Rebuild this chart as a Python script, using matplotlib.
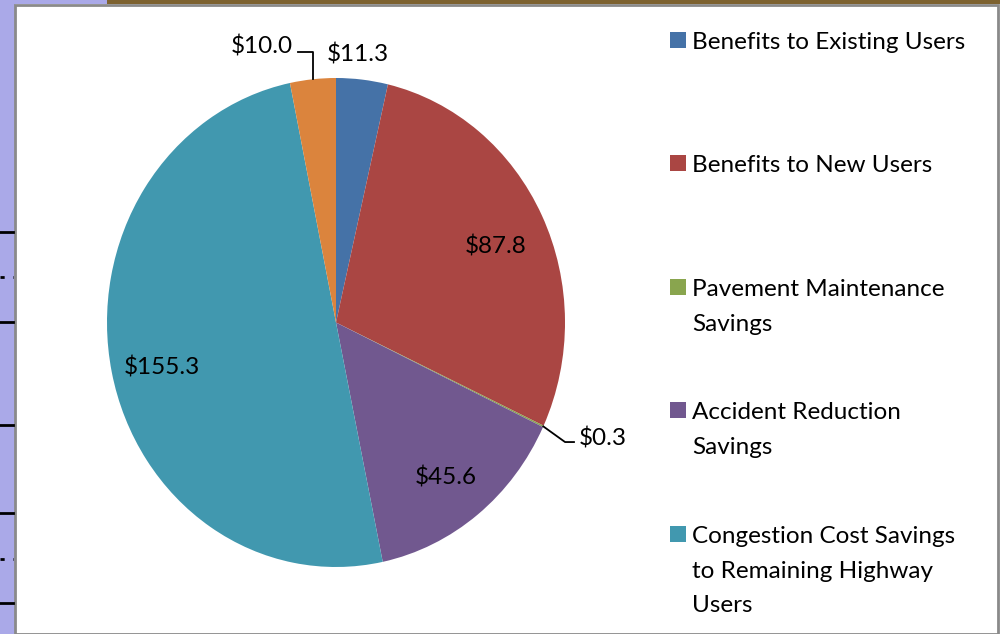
import numpy as np
import matplotlib.pyplot as plt
from matplotlib.patches import Rectangle
from matplotlib.lines import Line2D

# Dati (miliardi di $)
categories = ["Benefits to Existing Users", "Benefits to New Users",
              "Pavement Maintenance\nSavings", "Accident Reduction\nSavings",
              "Congestion Cost Savings\nto Remaining Highway\nUsers",
              "Other Savings"]
values = [11.3, 87.8, 0.3, 45.6, 155.3, 10.0]
value_labels = ["$11.3", "$87.8", "$0.3", "$45.6", "$155.3", "$10.0"]
colors = ["#4572a7", "#aa4643", "#89a54e", "#71588f", "#4198af", "#db843d"]

plt.rcParams['font.family'] = ['Lato', 'DejaVu Sans']
FS = 17.5

W, H = 1000, 634
fig = plt.figure(figsize=(W / 100, H / 100), dpi=100, facecolor='white')

def fx(px):
    return px / W

def fy(py):
    return 1 - py / H

# cornice dello screenshot
fig.add_artist(Rectangle((0, 0), fx(15), 1, transform=fig.transFigure,
                         facecolor='#aaa9e8', edgecolor='none', zorder=-3))
fig.add_artist(Rectangle((0, fy(4)), fx(107), 4 / H, transform=fig.transFigure,
                         facecolor='#aaa9e8', edgecolor='none', zorder=-3))
fig.add_artist(Rectangle((fx(107), fy(4)), 1 - fx(107), 4 / H, transform=fig.transFigure,
                         facecolor='#7d6230', edgecolor='none', zorder=-3))
fig.add_artist(Rectangle((fx(15), 0), fx(998) - fx(15), fy(5), transform=fig.transFigure,
                         facecolor='white', edgecolor='#8a8a8a', linewidth=2, zorder=-2))
for py in [232, 322, 425, 513, 603]:
    fig.add_artist(Line2D([0, fx(13)], [fy(py), fy(py)], transform=fig.transFigure,
                          color='black', linewidth=2, zorder=-1))
for py in [277, 559]:
    fig.add_artist(Line2D([0, fx(13)], [fy(py), fy(py)], transform=fig.transFigure,
                          color='black', linewidth=2, dashes=(1.5, 3), zorder=-1))

# torta (leggermente ellittica come nell'originale)
ax = fig.add_axes([fx(107), fy(567), fx(565) - fx(107), fy(78) - fy(567)])
ax.set_zorder(2)
ax.patch.set_visible(False)
wedges, _ = ax.pie(values, colors=colors, startangle=90, counterclock=False,
                   radius=1, wedgeprops={'linewidth': 0})
ax.set_aspect('auto')
ax.set_xlim(-1, 1)
ax.set_ylim(-1, 1)
ax.axis('off')

for i, w in enumerate(wedges):
    mid = np.deg2rad((w.theta1 + w.theta2) / 2)
    ex, ey = np.cos(mid), np.sin(mid)
    lab = value_labels[i]
    if values[i] > 40:
        ax.text(0.775 * ex, 0.775 * ey - 0.027, lab, ha='center', va='center', fontsize=FS)
    elif i == 0:
        ax.text(0.096, 1.098, lab, ha='center', va='center', fontsize=FS)
    elif i == 2:
        ax.plot([ex, ex + 0.095, ex + 0.134], [ey, ey - 0.064, ey - 0.064],
                color='black', linewidth=1.3, clip_on=False)
        ax.text(ex + 0.156, ey - 0.05, lab, ha='left', va='center', fontsize=FS)
    else:
        ax.plot([ex, ex, ex - 0.066], [ey, 1.106, 1.106],
                color='black', linewidth=1.3, clip_on=False)
        ax.text(ex - 0.088, 1.13, lab, ha='right', va='center', fontsize=FS)

# legenda manuale (l'originale è tagliata dopo la quinta voce)
entry_y = [40, 163, 287, 410, 534]
for i, py in enumerate(entry_y):
    fig.add_artist(Rectangle((fx(670), fy(py + 8)), fx(16), 16 / H,
                             transform=fig.transFigure, facecolor=colors[i],
                             edgecolor='none'))
    fig.text(fx(692), fy(py - 8), categories[i], ha='left', va='top',
             fontsize=FS, linespacing=1.8)

fig.savefig("out.png", dpi=100, facecolor='white')
